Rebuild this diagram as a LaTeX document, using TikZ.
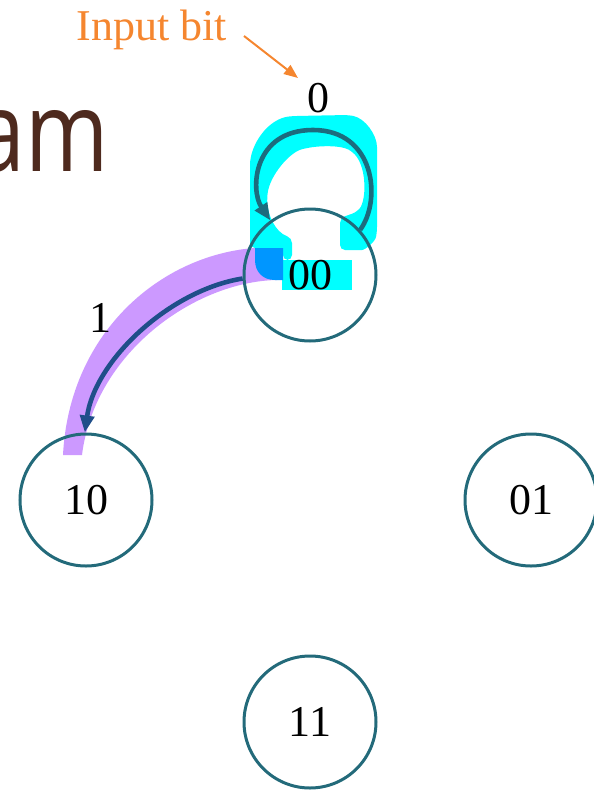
\documentclass[tikz,border=0pt]{standalone}
\usepackage{fontspec}
\setmainfont{Liberation Serif}
\newfontfamily\titlefont{Open Sans}
\usetikzlibrary{arrows.meta}
\definecolor{ringteal}{HTML}{236A7A}
\definecolor{loopteal}{HTML}{1C6C7E}
\definecolor{edgeblue}{HTML}{1F4E89}
\definecolor{hlcyan}{HTML}{00FFFF}
\definecolor{hlpurple}{HTML}{CC99FF}
\definecolor{hlblue}{HTML}{0096FF}
\definecolor{noteorange}{HTML}{F5862F}
\definecolor{titlebrown}{HTML}{4E2A1E}
\tikzset{
  state/.style={circle, draw=ringteal, line width=3pt, minimum size=132pt,
    inner sep=0pt, font=\fontsize{44}{44}\selectfont},
  bitlabel/.style={font=\fontsize{44}{44}\selectfont, inner sep=0pt},
  transition/.style={line width=4.6pt, -{Triangle[length=17pt,width=14pt]}},
}
\begin{document}
\begin{tikzpicture}[x=1pt, y=-1pt]
\useasboundingbox (0,0) rectangle (594,790);

% title fragment
\node[anchor=base east, inner sep=0pt, text=titlebrown,
      font=\titlefont\fontsize{112}{112}\selectfont] (title) at (109,171)
      {\scalebox{0.8}[1]{am}};

% highlighter marks
\fill[hlpurple]
  (283,248) .. controls (180,240) and (70,320) .. (63,455)
  -- (82,455) .. controls (95,350) and (200,278) .. (283,280) -- cycle;
\fill[hlcyan, rounded corners=5pt]
  (250,248) -- (250,170) .. controls (250,145) and (268,118) .. (295,116)
  -- (348,115) .. controls (365,118) and (377,135) .. (377,152)
  -- (377,232) .. controls (375,242) and (365,250) .. (357,250)
  -- (340,250) -- (340,218) -- (357,212)
  .. controls (366,200) and (367,170) .. (353,152)
  .. controls (340,145) and (320,146) .. (307,148)
  .. controls (290,152) and (270,175) .. (267,198)
  .. controls (268,215) and (275,232) .. (292,238)
  -- (292,260) -- (283,260) -- (283,248) -- cycle;
\fill[hlcyan] (282,260) rectangle (352,290);
\fill[hlblue] (255,248) -- (255,260) .. controls (255,272) and (263,280) .. (275,280)
  -- (283,280) -- (283,248) -- cycle;

% states
\node[state] (s00) at (310,275) {00};
\node[state] (s10) at (86,500) {10};
\node[state] (s01) at (531,500) {01};
\node[state] (s11) at (310,722) {11};

% transitions
\draw[transition, loopteal]
  (s00.42) .. controls (382,200) and (375,130) .. (313,130)
  .. controls (253,130) and (250,190) .. (s00.126);
\draw[transition, edgeblue]
  (s00.183) .. controls (170,290) and (95,360) .. (s10.91);

% input labels
\node[bitlabel] (in0) at (318,98) {0};
\node[bitlabel] (in1) at (100,318) {1};

% annotation
\node[inner sep=0pt, text=noteorange, font=\fontsize{44}{44}\selectfont] (note) at (152,30) {Input bit};
\coordinate (notefrom) at (244,36);
\coordinate (noteto) at (298,78);
\draw[noteorange, line width=2pt, -{Triangle[length=14pt,width=11pt]}] (notefrom) -- (noteto);
\end{tikzpicture}
\end{document}
